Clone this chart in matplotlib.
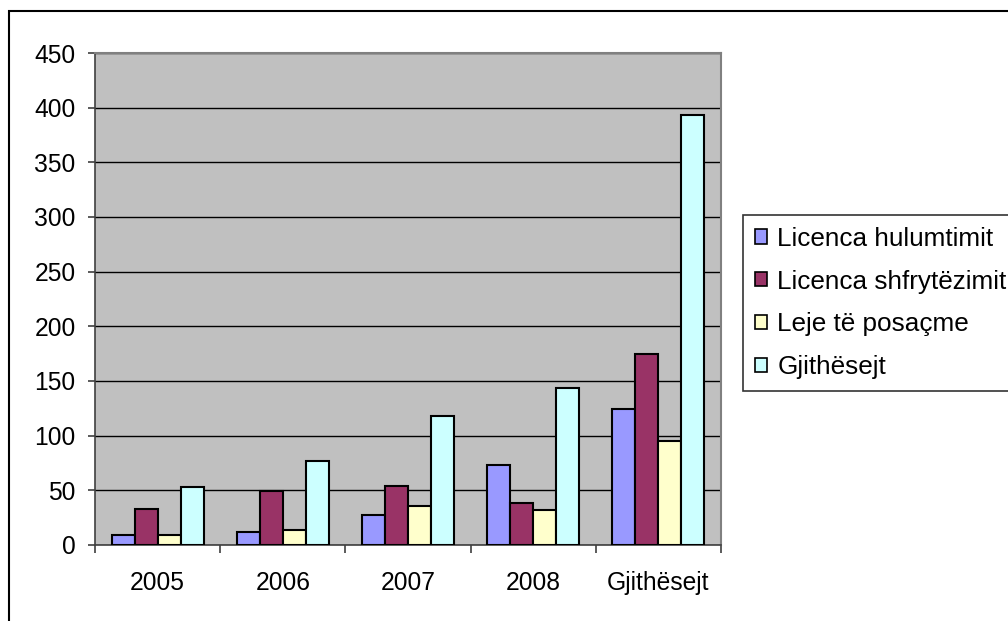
import matplotlib
matplotlib.use("Agg")
import matplotlib.pyplot as plt
from matplotlib.patches import Patch, Rectangle
import numpy as np

categories = ["2005", "2006", "2007", "2008", "Gjithësejt"]
series_names = ["Licenca hulumtimit", "Licenca shfrytëzimit", "Leje të posaçme", "Gjithësejt"]
licenca_hulumtimit = [9, 12, 27, 73, 124]
licenca_shfrytezimit = [33, 49, 54, 38, 175]
leje_te_posacme = [9, 14, 36, 32, 95]
gjithesejt = [53, 77, 118, 144, 393]
colors = ["#9999FF", "#993366", "#FFFFCC", "#CCFFFF"]
y_ticks = [0, 50, 100, 150, 200, 250, 300, 350, 400, 450]

plt.rcParams['font.family'] = ['Liberation Sans', 'DejaVu Sans']

W, H = 1008, 621
fig = plt.figure(figsize=(W / 100, H / 100), dpi=100)
fig.patch.set_facecolor("white")

# outer chart border (extends beyond the right/bottom of the image)
fig.patches.append(Rectangle((9 / W, -0.05), 1.2, 1 - 11 / H + 0.05,
                             transform=fig.transFigure, fill=False,
                             edgecolor="black", linewidth=1.5, zorder=0))

ax = fig.add_axes([95 / W, 1 - 545 / H, (721 - 95) / W, (545 - 53) / H])
ax.set_facecolor("#C0C0C0")

all_series = [licenca_hulumtimit, licenca_shfrytezimit, leje_te_posacme, gjithesejt]
x = np.arange(len(categories))
bw = 0.184
for i, (vals, col, name) in enumerate(zip(all_series, colors, series_names)):
    ax.bar(x + (i - 1.5) * bw, vals, width=bw, color=col, edgecolor="black",
           linewidth=1.5, label=name, zorder=3)

ax.set_xlim(-0.5, len(categories) - 0.5)
ax.set_ylim(0, 450)
ax.set_yticks(y_ticks)
ax.set_yticklabels([str(t) for t in y_ticks])
ax.yaxis.grid(True, color="black", linewidth=1.0, zorder=1)
ax.set_axisbelow(True)

ax.set_xticks(x)
ax.set_xticklabels(categories)
ax.set_xticks(np.arange(-0.5, len(categories)), minor=True)
ax.tick_params(axis="x", which="major", length=0, pad=19, labelsize=17.7)
ax.tick_params(axis="x", which="minor", length=6, width=1.2, color="#404040", direction="out")
ax.tick_params(axis="y", which="major", length=5, width=1.2, color="#404040", pad=9, labelsize=17.7)

for s in ["top", "right"]:
    ax.spines[s].set_color("#808080")
    ax.spines[s].set_linewidth(1.5)
for s in ["left", "bottom"]:
    ax.spines[s].set_color("#404040")
    ax.spines[s].set_linewidth(1.2)

handles = [Patch(facecolor=c, edgecolor="black", linewidth=1.2) for c in colors]
leg = fig.legend(handles, series_names, loc="upper left",
                 bbox_to_anchor=(743 / W, 1 - 215 / H), bbox_transform=fig.transFigure,
                 fontsize=18.8, frameon=True, fancybox=False, shadow=False,
                 handlelength=0.47, handleheight=0.47, handletextpad=0.4,
                 labelspacing=0.72, borderpad=0.45, borderaxespad=0)
leg.get_frame().set_edgecolor("black")
leg.get_frame().set_linewidth(1.2)

fig.savefig("out.png", dpi=100)
